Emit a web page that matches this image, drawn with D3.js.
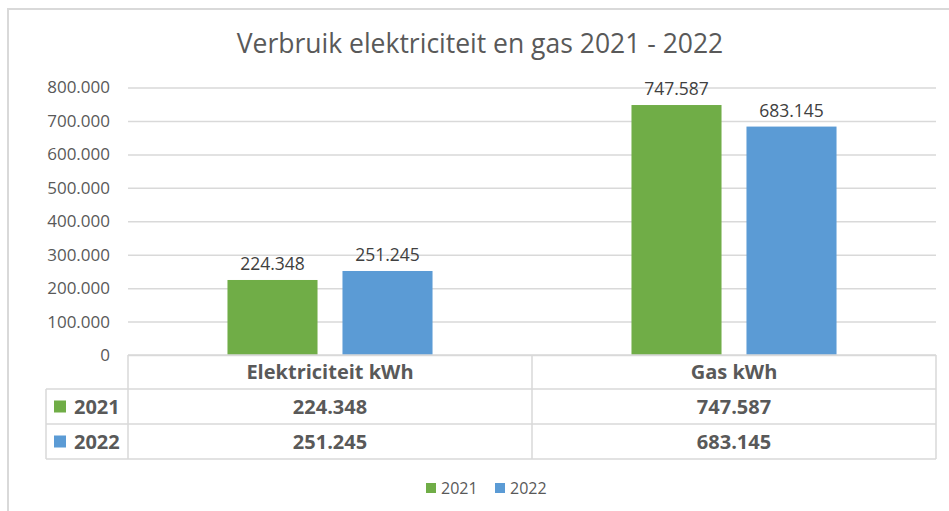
<!DOCTYPE html>
<html>
<head>
<meta charset="utf-8">
<style>
  body { margin: 0; background: #fff; }
  svg { font-family: "Open Sans", sans-serif; }
</style>
</head>
<body>
<svg id="chart" width="949" height="511"></svg>

<script src="https://d3js.org/d3.v7.min.js"></script>
<script>
  // chart data
  const categories = ['Elektriciteit kWh', 'Gas kWh']
  const years = ['2021', '2022']
  const values2021 = [224348, 747587]
  const values2022 = [251245, 683145]
  const yTicks = [0, 100000, 200000, 300000, 400000, 500000, 600000, 700000, 800000]
  const colors = ['#70AD47', '#5B9BD5']

  const nl = d3.formatLocale({ decimal: ',', thousands: '.', grouping: [3], currency: ['€', ''] })
  const fmt = nl.format(',')

  const svg = d3.select('#chart')
  const plotLeft = 128, plotRight = 936, plotTop = 87.5, base = 355

  // outer chart border
  svg.append('rect')
    .attr('x', 8).attr('y', 9)
    .attr('width', 960).attr('height', 520)
    .attr('fill', 'none')
    .attr('stroke', '#d9d9d9')
    .attr('stroke-width', 2)

  svg.append('text')
    .attr('x', 480).attr('y', 53)
    .attr('text-anchor', 'middle')
    .attr('font-size', 26.5)
    .attr('fill', '#595959')
    .text('Verbruik elektriciteit en gas 2021 - 2022')

  const x = d3.scaleBand().domain(categories).range([plotLeft, plotRight])
  const xs = d3.scaleBand().domain(years).range([0, x.bandwidth()])
    .paddingInner(0.217).paddingOuter(0.865)
  const y = d3.scaleLinear().domain([0, 800000]).range([base, plotTop])

  // gridlines + tick labels
  const yAxis = d3.axisLeft(y).tickValues(yTicks).tickFormat(fmt)
    .tickSize(-(plotRight - plotLeft)).tickPadding(18)
  const ga = svg.append('g').attr('transform', `translate(${plotLeft},0)`).call(yAxis)
  ga.select('.domain').remove()
  ga.selectAll('line').attr('stroke', '#d9d9d9').attr('stroke-width', 1.5)
  ga.selectAll('text').attr('fill', '#595959').attr('font-size', 17)
    .attr('font-family', '"Open Sans", sans-serif')

  // bars
  const series = [values2021, values2022]
  const bars = []
  categories.forEach((c, i) => {
    years.forEach((yr, j) => bars.push({ c, yr, j, v: series[j][i] }))
  })

  svg.append('g').selectAll('rect').data(bars).join('rect')
    .attr('x', d => x(d.c) + xs(d.yr))
    .attr('width', xs.bandwidth())
    .attr('y', d => y(d.v))
    .attr('height', d => base - y(d.v))
    .attr('fill', d => colors[d.j])

  svg.append('g').selectAll('text').data(bars).join('text')
    .attr('x', d => x(d.c) + xs(d.yr) + xs.bandwidth() / 2)
    .attr('y', d => y(d.v) - 10)
    .attr('text-anchor', 'middle')
    .attr('font-size', 17.5)
    .attr('fill', '#404040')
    .text(d => fmt(d.v))

  // data table under the axis
  const rowY = [base, 389, 424, 459]
  const tblLeft = 46
  const tbl = svg.append('g')
    .attr('stroke', '#d9d9d9').attr('stroke-width', 1.5)

  tbl.append('line').attr('x1', plotLeft).attr('x2', plotRight).attr('y1', rowY[0]).attr('y2', rowY[0])
  rowY.slice(1).forEach(ry => {
    tbl.append('line').attr('x1', tblLeft).attr('x2', plotRight).attr('y1', ry).attr('y2', ry)
  })
  tbl.append('line').attr('x1', tblLeft).attr('x2', tblLeft).attr('y1', rowY[1]).attr('y2', rowY[3])
  ;[plotLeft, x(categories[1]), plotRight].forEach(vx => {
    tbl.append('line').attr('x1', vx).attr('x2', vx).attr('y1', rowY[0]).attr('y2', rowY[3])
  })

  const cell = svg.append('g')
    .attr('font-weight', 'bold').attr('font-size', 20).attr('fill', '#595959')

  categories.forEach(c => {
    cell.append('text')
      .attr('x', x(c) + x.bandwidth() / 2).attr('y', (rowY[0] + rowY[1]) / 2)
      .attr('dy', '0.35em').attr('text-anchor', 'middle')
      .text(c)
  })

  years.forEach((yr, j) => {
    const cy = (rowY[j + 1] + rowY[j + 2]) / 2
    svg.append('rect')
      .attr('x', 54).attr('y', cy - 6).attr('width', 12).attr('height', 12)
      .attr('fill', colors[j])
    cell.append('text').attr('x', 74).attr('y', cy).attr('dy', '0.35em').text(yr)
    categories.forEach((c, i) => {
      cell.append('text')
        .attr('x', x(c) + x.bandwidth() / 2).attr('y', cy)
        .attr('dy', '0.35em').attr('text-anchor', 'middle')
        .text(fmt(series[j][i]))
    })
  })

  // legend
  const legX = [426, 495]
  years.forEach((yr, j) => {
    svg.append('rect')
      .attr('x', legX[j]).attr('y', 483).attr('width', 10).attr('height', 10)
      .attr('fill', colors[j])
    svg.append('text')
      .attr('x', legX[j] + 15).attr('y', 488).attr('dy', '0.35em')
      .attr('font-size', 16).attr('fill', '#595959')
      .text(yr)
  })
</script>
</body>
</html>
